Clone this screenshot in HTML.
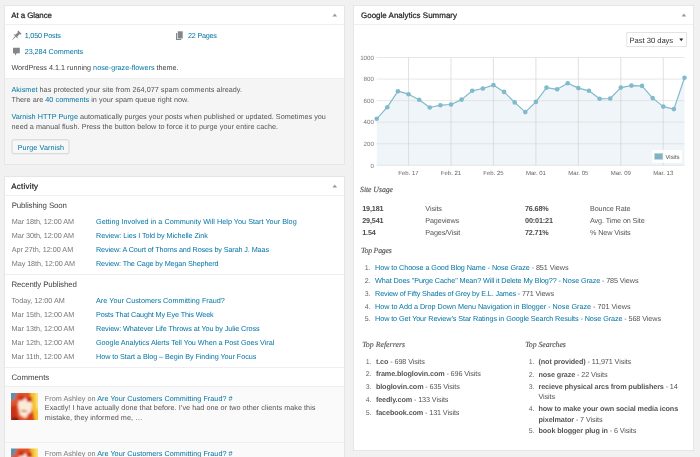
<!DOCTYPE html>
<html><head><meta charset="utf-8"><title>Dashboard</title>
<style>
html,body{margin:0;padding:0;background:#f1f1f1;width:700px;height:457px;overflow:hidden}
svg{display:block;font-family:'Liberation Sans', Arial, sans-serif;text-rendering:geometricPrecision}
</style></head>
<body>
<svg width="700" height="457" viewBox="0 0 700 457">
<rect x="4.5" y="5.5" width="340" height="159" fill="#fff" stroke="#e6e6e6" stroke-width="1"/>
<rect x="5" y="78" width="339" height="86" fill="#f5f5f5"/>
<line x1="5" y1="78.5" x2="344" y2="78.5" stroke="#eee" stroke-width="1"/>
<line x1="5" y1="24.5" x2="344" y2="24.5" stroke="#f0f0f0" stroke-width="1"/>
<rect x="4.5" y="176.5" width="340" height="300" fill="#fff" stroke="#e6e6e6" stroke-width="1"/>
<line x1="5" y1="195.5" x2="344" y2="195.5" stroke="#f0f0f0" stroke-width="1"/>
<rect x="353.5" y="5.5" width="340" height="445" fill="#fff" stroke="#e6e6e6" stroke-width="1"/>
<line x1="354" y1="24.5" x2="693" y2="24.5" stroke="#f0f0f0" stroke-width="1"/>
<path d="M332.45,16.6 L337.05,16.6 L334.75,13.5 Z" fill="#999"/>
<path d="M332.45,187.6 L337.05,187.6 L334.75,184.4 Z" fill="#999"/>
<path d="M681.6,16.6 L686.1999999999999,16.6 L683.9,13.5 Z" fill="#999"/>
<text x="11.2" y="17.9" font-size="7.969" stroke="#222" stroke-width="0.22" textLength="40.80" lengthAdjust="spacing"><tspan fill="#222">At a Glance</tspan></text>
<g fill="#82878c" transform="translate(19.9,32.1) rotate(45)"><path d="M-2.3,0 L2.3,0 L2.3,1.3 L1.3,1.3 L1.3,4.6 L2.9,6.2 L-2.9,6.2 L-1.3,4.6 L-1.3,1.3 L-2.3,1.3 Z"/><path d="M-0.55,6.2 L0.55,6.2 L0.15,11 L-0.15,11 Z"/></g>
<text x="24.7" y="37.9" font-size="7.245" textLength="36.20" lengthAdjust="spacing"><tspan fill="#0074a2">1,050 Posts</tspan></text>
<g fill="#82878c"><rect x="177.8" y="31.3" width="4.9" height="7.2"/><path d="M176,32.9 L177.2,32.9 L177.2,38.9 L181.3,38.9 L181.3,39.9 L176,39.9 Z"/></g>
<text x="188.1" y="37.9" font-size="7.245" textLength="28.80" lengthAdjust="spacing"><tspan fill="#0074a2">22 Pages</tspan></text>
<path d="M13,47.8 L19.8,47.8 L19.8,53.3 L16.7,53.3 L15.4,55.6 L14.6,53.3 L13,53.3 Z" fill="#82878c"/>
<text x="24.7" y="54.3" font-size="7.245" textLength="58.50" lengthAdjust="spacing"><tspan fill="#0074a2">23,284 Comments</tspan></text>
<text x="11.4" y="70" font-size="7.245" textLength="167.20" lengthAdjust="spacing"><tspan fill="#444">WordPress 4.1.1 running </tspan><tspan fill="#0074a2">nose-graze-flowers</tspan><tspan fill="#444"> theme.</tspan></text>
<text x="11.5" y="92" font-size="7.245" textLength="230.50" lengthAdjust="spacing"><tspan fill="#0074a2">Akismet</tspan><tspan fill="#555"> has protected your site from 264,077 spam comments already.</tspan></text>
<text x="11.5" y="101.9" font-size="7.245" textLength="177.40" lengthAdjust="spacing"><tspan fill="#555">There are </tspan><tspan fill="#0074a2">40 comments</tspan><tspan fill="#555"> in your spam queue right now.</tspan></text>
<text x="11.5" y="119.4" font-size="7.245" textLength="314.40" lengthAdjust="spacing"><tspan fill="#0074a2">Varnish HTTP Purge</tspan><tspan fill="#555"> automatically purges your posts when published or updated. Sometimes you</tspan></text>
<text x="11.5" y="129.2" font-size="7.245" textLength="266.60" lengthAdjust="spacing"><tspan fill="#555">need a manual flush. Press the button below to force it to purge your entire cache.</tspan></text>
<rect x="12" y="139.8" width="57" height="13.8" fill="#f7f7f7" stroke="#ccc" stroke-width="0.8" rx="1.5"/>
<line x1="12.5" y1="153.9" x2="68.5" y2="153.9" stroke="#ddd" stroke-width="0.6"/>
<text x="17.7" y="149.7" font-size="7.245" textLength="46.30" lengthAdjust="spacing"><tspan fill="#0074a2">Purge Varnish</tspan></text>
<text x="11.3" y="188.6" font-size="7.969" stroke="#222" stroke-width="0.22" textLength="26.80" lengthAdjust="spacing"><tspan fill="#222">Activity</tspan></text>
<text x="11.7" y="207.7" font-size="7.866" textLength="55.20" lengthAdjust="spacing"><tspan fill="#444">Publishing Soon</tspan></text>
<text x="11.7" y="223.8" font-size="7.245" textLength="62.30" lengthAdjust="spacing"><tspan fill="#777">Mar 18th, 12:00 AM</tspan></text>
<text x="96" y="223.8" font-size="7.245" textLength="200.70" lengthAdjust="spacing"><tspan fill="#0074a2">Getting Involved in a Community Will Help You Start Your Blog</tspan></text>
<text x="11.7" y="237.70000000000002" font-size="7.245" textLength="62.30" lengthAdjust="spacing"><tspan fill="#777">Mar 30th, 12:00 AM</tspan></text>
<text x="96" y="237.70000000000002" font-size="7.245" textLength="111.90" lengthAdjust="spacing"><tspan fill="#0074a2">Review: Lies I Told by Michelle Zink</tspan></text>
<text x="11.7" y="251.60000000000002" font-size="7.245" textLength="61.50" lengthAdjust="spacing"><tspan fill="#777">Apr 27th, 12:00 AM</tspan></text>
<text x="96" y="251.60000000000002" font-size="7.245" textLength="173.00" lengthAdjust="spacing"><tspan fill="#0074a2">Review: A Court of Thorns and Roses by Sarah J. Maas</tspan></text>
<text x="11.7" y="265.5" font-size="7.245" textLength="63.30" lengthAdjust="spacing"><tspan fill="#777">May 18th, 12:00 AM</tspan></text>
<text x="96" y="265.5" font-size="7.245" textLength="122.60" lengthAdjust="spacing"><tspan fill="#0074a2">Review: The Cage by Megan Shepherd</tspan></text>
<line x1="5" y1="274.5" x2="344" y2="274.5" stroke="#eee" stroke-width="1"/>
<text x="11.5" y="286.6" font-size="7.866" textLength="65.30" lengthAdjust="spacing"><tspan fill="#444">Recently Published</tspan></text>
<text x="11.5" y="303.0" font-size="7.245" textLength="53.30" lengthAdjust="spacing"><tspan fill="#777">Today, 12:00 AM</tspan></text>
<text x="96" y="303.0" font-size="7.245" textLength="128.90" lengthAdjust="spacing"><tspan fill="#0074a2">Are Your Customers Committing Fraud?</tspan></text>
<text x="11.5" y="316.9" font-size="7.245" textLength="62.90" lengthAdjust="spacing"><tspan fill="#777">Mar 15th, 12:00 AM</tspan></text>
<text x="96" y="316.9" font-size="7.245" textLength="117.70" lengthAdjust="spacing"><tspan fill="#0074a2">Posts That Caught My Eye This Week</tspan></text>
<text x="11.5" y="330.8" font-size="7.245" textLength="62.90" lengthAdjust="spacing"><tspan fill="#777">Mar 13th, 12:00 AM</tspan></text>
<text x="96" y="330.8" font-size="7.245" textLength="163.70" lengthAdjust="spacing"><tspan fill="#0074a2">Review: Whatever Life Throws at You by Julie Cross</tspan></text>
<text x="11.5" y="344.7" font-size="7.245" textLength="62.90" lengthAdjust="spacing"><tspan fill="#777">Mar 12th, 12:00 AM</tspan></text>
<text x="96" y="344.7" font-size="7.245" textLength="178.30" lengthAdjust="spacing"><tspan fill="#0074a2">Google Analytics Alerts Tell You When a Post Goes Viral</tspan></text>
<text x="11.5" y="358.6" font-size="7.245" textLength="62.90" lengthAdjust="spacing"><tspan fill="#777">Mar 11th, 12:00 AM</tspan></text>
<text x="96" y="358.6" font-size="7.245" textLength="160.30" lengthAdjust="spacing"><tspan fill="#0074a2">How to Start a Blog – Begin By Finding Your Focus</tspan></text>
<line x1="5" y1="367.5" x2="344" y2="367.5" stroke="#eee" stroke-width="1"/>
<text x="11.4" y="379.6" font-size="7.866" textLength="37.90" lengthAdjust="spacing"><tspan fill="#444">Comments</tspan></text>
<line x1="5" y1="386.5" x2="344" y2="386.5" stroke="#eee" stroke-width="1"/>
<rect x="5" y="387" width="339" height="70" fill="#fafafa"/>
<line x1="5" y1="442.5" x2="344" y2="442.5" stroke="#eee" stroke-width="1"/>
<defs>
<filter id="avb" x="-10%" y="-10%" width="120%" height="120%"><feGaussianBlur stdDeviation="0.9"/></filter>
<clipPath id="avc"><rect x="0" y="0" width="27" height="27"/></clipPath>
<g id="avg"><g clip-path="url(#avc)"><g filter="url(#avb)">
<rect x="-2" y="-2" width="31" height="31" fill="#e2542a"/>
<path d="M-2,-2 L7,-2 L3,7 L-2,8 Z" fill="#5d8fae"/>
<path d="M19,-2 L29,-2 L29,29 L22,29 Z" fill="#f6c02e"/>
<path d="M24,-2 L29,-2 L29,20 L25,14 Z" fill="#fbe27a"/>
<path d="M8,6 L19,5 L21,12 L19.5,22 L14,25 L9,22 L7,12 Z" fill="#fbecd8"/>
<path d="M7,3 L13,2 L13,7 L8,8 Z" fill="#c9301f"/>
<path d="M15,4 L21,4 L21,9 L16,9 Z" fill="#c9301f"/>
<path d="M10,17 L16,17.5 L15.5,19 L10.5,18.5 Z" fill="#c05a48"/>
<path d="M-2,14 L5,12 L7,29 L-2,29 Z" fill="#c8321a"/>
<path d="M17,21 L22,18 L24,29 L14,29 Z" fill="#d8401e"/>
<path d="M2,24 L8,25 L8,29 L0,29 Z" fill="#7a1d12"/>
</g></g></g>
</defs>
<use href="#avg" x="11" y="393"/>
<text x="44.8" y="400.5" font-size="7.245" textLength="187.80" lengthAdjust="spacing"><tspan fill="#777">From Ashley on </tspan><tspan fill="#0074a2">Are Your Customers Committing Fraud? #</tspan></text>
<text x="44.8" y="410.3" font-size="7.245" textLength="270.60" lengthAdjust="spacing"><tspan fill="#555">Exactly! I have actually done that before. I’ve had one or two other clients make this</tspan></text>
<text x="44.8" y="420.2" font-size="7.245" textLength="97.60" lengthAdjust="spacing"><tspan fill="#555">mistake, they informed me, …</tspan></text>
<use href="#avg" x="11" y="448.5"/>
<text x="44.8" y="456" font-size="7.245" textLength="187.80" lengthAdjust="spacing"><tspan fill="#777">From Ashley on </tspan><tspan fill="#0074a2">Are Your Customers Committing Fraud? #</tspan></text>
<text x="361" y="17.9" font-size="7.969" stroke="#222" stroke-width="0.22" textLength="96.00" lengthAdjust="spacing"><tspan fill="#222">Google Analytics Summary</tspan></text>
<rect x="626.8" y="32.6" width="59.7" height="13.8" fill="#fff" stroke="#ddd" stroke-width="0.8"/>
<text x="629.5" y="42.7" font-size="7.659" textLength="43.70" lengthAdjust="spacing"><tspan fill="#333">Past 30 days</tspan></text>
<path d="M679.3,38.5 L683.2,38.5 L681.25,41.3 Z" fill="#222"/>
<polygon points="376.7,165.3 376.70,118.80 387.31,107.20 397.93,91.20 408.54,94.20 419.16,99.80 429.77,107.50 440.38,105.20 451.00,104.50 461.61,99.60 472.22,90.80 482.84,88.50 493.45,85.10 504.07,91.90 514.68,102.40 525.29,112.10 535.91,101.90 546.52,87.60 557.13,89.30 567.75,83.20 578.36,88.10 588.98,90.80 599.59,98.80 610.20,98.50 620.82,87.60 631.43,85.60 642.04,85.90 652.66,98.10 663.27,106.60 673.89,109.10 684.50,77.70 684.5,165.3" fill="#eff5f8"/>
<line x1="376.7" y1="57.5" x2="684.5" y2="57.5" stroke="#dcdcdc" stroke-width="0.7"/>
<line x1="376.7" y1="79.06" x2="684.5" y2="79.06" stroke="#dcdcdc" stroke-width="0.7"/>
<line x1="376.7" y1="100.62" x2="684.5" y2="100.62" stroke="#dcdcdc" stroke-width="0.7"/>
<line x1="376.7" y1="122.18" x2="684.5" y2="122.18" stroke="#dcdcdc" stroke-width="0.7"/>
<line x1="376.7" y1="143.74" x2="684.5" y2="143.74" stroke="#dcdcdc" stroke-width="0.7"/>
<line x1="376.7" y1="165.3" x2="684.5" y2="165.3" stroke="#dcdcdc" stroke-width="0.7"/>
<line x1="408.54" y1="57.5" x2="408.54" y2="165.3" stroke="#d4d4d4" stroke-width="0.7"/>
<text x="408.54" y="175" font-size="6" text-anchor="middle"><tspan fill="#666">Feb. 17</tspan></text>
<line x1="451.0" y1="57.5" x2="451.0" y2="165.3" stroke="#d4d4d4" stroke-width="0.7"/>
<text x="451.0" y="175" font-size="6" text-anchor="middle"><tspan fill="#666">Feb. 21</tspan></text>
<line x1="493.45" y1="57.5" x2="493.45" y2="165.3" stroke="#d4d4d4" stroke-width="0.7"/>
<text x="493.45" y="175" font-size="6" text-anchor="middle"><tspan fill="#666">Feb. 25</tspan></text>
<line x1="535.91" y1="57.5" x2="535.91" y2="165.3" stroke="#d4d4d4" stroke-width="0.7"/>
<text x="535.91" y="175" font-size="6" text-anchor="middle"><tspan fill="#666">Mar. 01</tspan></text>
<line x1="578.36" y1="57.5" x2="578.36" y2="165.3" stroke="#d4d4d4" stroke-width="0.7"/>
<text x="578.36" y="175" font-size="6" text-anchor="middle"><tspan fill="#666">Mar. 05</tspan></text>
<line x1="620.82" y1="57.5" x2="620.82" y2="165.3" stroke="#d4d4d4" stroke-width="0.7"/>
<text x="620.82" y="175" font-size="6" text-anchor="middle"><tspan fill="#666">Mar. 09</tspan></text>
<line x1="663.27" y1="57.5" x2="663.27" y2="165.3" stroke="#d4d4d4" stroke-width="0.7"/>
<text x="663.27" y="175" font-size="6" text-anchor="middle"><tspan fill="#666">Mar. 13</tspan></text>
<text x="373.9" y="59.7" font-size="6.2" text-anchor="end"><tspan fill="#777">1000</tspan></text>
<text x="373.9" y="81.26" font-size="6.2" text-anchor="end"><tspan fill="#777">800</tspan></text>
<text x="373.9" y="102.82" font-size="6.2" text-anchor="end"><tspan fill="#777">600</tspan></text>
<text x="373.9" y="124.38" font-size="6.2" text-anchor="end"><tspan fill="#777">400</tspan></text>
<text x="373.9" y="145.94" font-size="6.2" text-anchor="end"><tspan fill="#777">200</tspan></text>
<text x="373.9" y="167.5" font-size="6.2" text-anchor="end"><tspan fill="#777">0</tspan></text>
<polyline points="376.70,118.80 387.31,107.20 397.93,91.20 408.54,94.20 419.16,99.80 429.77,107.50 440.38,105.20 451.00,104.50 461.61,99.60 472.22,90.80 482.84,88.50 493.45,85.10 504.07,91.90 514.68,102.40 525.29,112.10 535.91,101.90 546.52,87.60 557.13,89.30 567.75,83.20 578.36,88.10 588.98,90.80 599.59,98.80 610.20,98.50 620.82,87.60 631.43,85.60 642.04,85.90 652.66,98.10 663.27,106.60 673.89,109.10 684.50,77.70" fill="none" stroke="#80bacb" stroke-width="1.2" stroke-linejoin="round"/>
<circle cx="376.70" cy="118.80" r="2.3" fill="#80bacb"/>
<circle cx="387.31" cy="107.20" r="2.3" fill="#80bacb"/>
<circle cx="397.93" cy="91.20" r="2.3" fill="#80bacb"/>
<circle cx="408.54" cy="94.20" r="2.3" fill="#80bacb"/>
<circle cx="419.16" cy="99.80" r="2.3" fill="#80bacb"/>
<circle cx="429.77" cy="107.50" r="2.3" fill="#80bacb"/>
<circle cx="440.38" cy="105.20" r="2.3" fill="#80bacb"/>
<circle cx="451.00" cy="104.50" r="2.3" fill="#80bacb"/>
<circle cx="461.61" cy="99.60" r="2.3" fill="#80bacb"/>
<circle cx="472.22" cy="90.80" r="2.3" fill="#80bacb"/>
<circle cx="482.84" cy="88.50" r="2.3" fill="#80bacb"/>
<circle cx="493.45" cy="85.10" r="2.3" fill="#80bacb"/>
<circle cx="504.07" cy="91.90" r="2.3" fill="#80bacb"/>
<circle cx="514.68" cy="102.40" r="2.3" fill="#80bacb"/>
<circle cx="525.29" cy="112.10" r="2.3" fill="#80bacb"/>
<circle cx="535.91" cy="101.90" r="2.3" fill="#80bacb"/>
<circle cx="546.52" cy="87.60" r="2.3" fill="#80bacb"/>
<circle cx="557.13" cy="89.30" r="2.3" fill="#80bacb"/>
<circle cx="567.75" cy="83.20" r="2.3" fill="#80bacb"/>
<circle cx="578.36" cy="88.10" r="2.3" fill="#80bacb"/>
<circle cx="588.98" cy="90.80" r="2.3" fill="#80bacb"/>
<circle cx="599.59" cy="98.80" r="2.3" fill="#80bacb"/>
<circle cx="610.20" cy="98.50" r="2.3" fill="#80bacb"/>
<circle cx="620.82" cy="87.60" r="2.3" fill="#80bacb"/>
<circle cx="631.43" cy="85.60" r="2.3" fill="#80bacb"/>
<circle cx="642.04" cy="85.90" r="2.3" fill="#80bacb"/>
<circle cx="652.66" cy="98.10" r="2.3" fill="#80bacb"/>
<circle cx="663.27" cy="106.60" r="2.3" fill="#80bacb"/>
<circle cx="673.89" cy="109.10" r="2.3" fill="#80bacb"/>
<circle cx="684.50" cy="77.70" r="2.3" fill="#80bacb"/>
<rect x="652.2" y="150" width="29.8" height="12.8" fill="#fff" opacity="0.85"/>
<rect x="654.6" y="153.4" width="8.2" height="6" fill="#7ab4c6" stroke="#ccc" stroke-width="0.6"/>
<text x="665.5" y="159.2" font-size="6.003" textLength="14.00" lengthAdjust="spacing"><tspan fill="#545454">Visits</tspan></text>
<text x="360.1" y="192.3" font-size="7.8" font-family="'Liberation Serif', Georgia, serif" font-style="italic" stroke="#555" stroke-width="0.15" textLength="32.90" lengthAdjust="spacing"><tspan fill="#555">Site Usage</tspan></text>
<text x="362.2" y="210.9" font-size="7.245" textLength="21.42" lengthAdjust="spacing"><tspan fill="#4a4a4a" font-weight="700">19,181</tspan></text>
<text x="425.3" y="210.9" font-size="7.245" textLength="16.61" lengthAdjust="spacing"><tspan fill="#555">Visits</tspan></text>
<text x="525" y="210.9" font-size="7.245" textLength="23.75" lengthAdjust="spacing"><tspan fill="#4a4a4a" font-weight="700">76.68%</tspan></text>
<text x="590" y="210.9" font-size="7.245" textLength="40.48" lengthAdjust="spacing"><tspan fill="#555">Bounce Rate</tspan></text>
<text x="362.2" y="222.9" font-size="7.245" textLength="21.42" lengthAdjust="spacing"><tspan fill="#4a4a4a" font-weight="700">29,541</tspan></text>
<text x="425.3" y="222.9" font-size="7.245" textLength="33.86" lengthAdjust="spacing"><tspan fill="#555">Pageviews</tspan></text>
<text x="525" y="222.9" font-size="7.245" textLength="28.03" lengthAdjust="spacing"><tspan fill="#4a4a4a" font-weight="700">00:01:21</tspan></text>
<text x="590" y="222.9" font-size="7.245" textLength="54.73" lengthAdjust="spacing"><tspan fill="#555">Avg. Time on Site</tspan></text>
<text x="362.2" y="234.5" font-size="7.245" textLength="13.62" lengthAdjust="spacing"><tspan fill="#4a4a4a" font-weight="700">1.54</tspan></text>
<text x="425.3" y="234.5" font-size="7.245" textLength="34.89" lengthAdjust="spacing"><tspan fill="#555">Pages/Visit</tspan></text>
<text x="525" y="234.5" font-size="7.245" textLength="23.75" lengthAdjust="spacing"><tspan fill="#4a4a4a" font-weight="700">72.71%</tspan></text>
<text x="590" y="234.5" font-size="7.245" textLength="40.72" lengthAdjust="spacing"><tspan fill="#555">% New Visits</tspan></text>
<text x="361" y="253.1" font-size="7.8" font-family="'Liberation Serif', Georgia, serif" font-style="italic" stroke="#555" stroke-width="0.15" textLength="30.90" lengthAdjust="spacing"><tspan fill="#555">Top Pages</tspan></text>
<text x="370.5" y="270.0" font-size="7" text-anchor="end"><tspan fill="#666">1.</tspan></text>
<text x="375.1" y="270.0" font-size="7.245" textLength="193.40" lengthAdjust="spacing"><tspan fill="#0074a2">How to Choose a Good Blog Name - Nose Graze</tspan><tspan fill="#555"> - 851 Views</tspan></text>
<text x="370.5" y="282.85" font-size="7" text-anchor="end"><tspan fill="#666">2.</tspan></text>
<text x="375.1" y="282.85" font-size="7.245" textLength="263.40" lengthAdjust="spacing"><tspan fill="#0074a2">What Does "Purge Cache" Mean? Will it Delete My Blog?? - Nose Graze</tspan><tspan fill="#555"> - 785 Views</tspan></text>
<text x="370.5" y="295.7" font-size="7" text-anchor="end"><tspan fill="#666">3.</tspan></text>
<text x="375.1" y="295.7" font-size="7.245" textLength="178.90" lengthAdjust="spacing"><tspan fill="#0074a2">Review of Fifty Shades of Grey by E.L. James</tspan><tspan fill="#555"> - 771 Views</tspan></text>
<text x="370.5" y="308.55" font-size="7" text-anchor="end"><tspan fill="#666">4.</tspan></text>
<text x="375.1" y="308.55" font-size="7.245" textLength="255.40" lengthAdjust="spacing"><tspan fill="#0074a2">How to Add a Drop Down Menu Navigation in Blogger - Nose Graze</tspan><tspan fill="#555"> - 701 Views</tspan></text>
<text x="370.5" y="321.4" font-size="7" text-anchor="end"><tspan fill="#666">5.</tspan></text>
<text x="375.1" y="321.4" font-size="7.245" textLength="285.90" lengthAdjust="spacing"><tspan fill="#0074a2">How to Get Your Review’s Star Ratings in Google Search Results - Nose Graze</tspan><tspan fill="#555"> - 568 Views</tspan></text>
<text x="362.2" y="346.6" font-size="7.8" font-family="'Liberation Serif', Georgia, serif" font-style="italic" stroke="#555" stroke-width="0.15" textLength="42.80" lengthAdjust="spacing"><tspan fill="#555">Top Referrers</tspan></text>
<text x="525.3" y="346.6" font-size="7.8" font-family="'Liberation Serif', Georgia, serif" font-style="italic" stroke="#555" stroke-width="0.15" textLength="40.60" lengthAdjust="spacing"><tspan fill="#555">Top Searches</tspan></text>
<text x="371.5" y="363.6" font-size="7" text-anchor="end"><tspan fill="#666">1.</tspan></text>
<text x="375.9" y="363.6" font-size="7.245" textLength="48.91" lengthAdjust="spacing"><tspan fill="#555" font-weight="700">t.co</tspan><tspan fill="#555"> - 698 Visits</tspan></text>
<text x="371.5" y="376.40000000000003" font-size="7" text-anchor="end"><tspan fill="#666">2.</tspan></text>
<text x="375.9" y="376.40000000000003" font-size="7.245" textLength="104.92" lengthAdjust="spacing"><tspan fill="#555" font-weight="700">frame.bloglovin.com</tspan><tspan fill="#555"> - 696 Visits</tspan></text>
<text x="371.5" y="389.20000000000005" font-size="7" text-anchor="end"><tspan fill="#666">3.</tspan></text>
<text x="375.9" y="389.20000000000005" font-size="7.245" textLength="83.91" lengthAdjust="spacing"><tspan fill="#555" font-weight="700">bloglovin.com</tspan><tspan fill="#555"> - 635 Visits</tspan></text>
<text x="371.5" y="402.0" font-size="7" text-anchor="end"><tspan fill="#666">4.</tspan></text>
<text x="375.9" y="402.0" font-size="7.245" textLength="72.52" lengthAdjust="spacing"><tspan fill="#555" font-weight="700">feedly.com</tspan><tspan fill="#555"> - 133 Visits</tspan></text>
<text x="371.5" y="414.8" font-size="7" text-anchor="end"><tspan fill="#666">5.</tspan></text>
<text x="375.9" y="414.8" font-size="7.245" textLength="83.53" lengthAdjust="spacing"><tspan fill="#555" font-weight="700">facebook.com</tspan><tspan fill="#555"> - 131 Visits</tspan></text>
<text x="534.5" y="363.6" font-size="7" text-anchor="end"><tspan fill="#666">1.</tspan></text>
<text x="538.5" y="363.6" font-size="7.245" textLength="92.72" lengthAdjust="spacing"><tspan fill="#555" font-weight="700">(not provided)</tspan><tspan fill="#555"> - 11,971 Visits</tspan></text>
<text x="534.5" y="376.5" font-size="7" text-anchor="end"><tspan fill="#666">2.</tspan></text>
<text x="538.5" y="376.5" font-size="7.245" textLength="69.14" lengthAdjust="spacing"><tspan fill="#555" font-weight="700">nose graze</tspan><tspan fill="#555"> - 22 Visits</tspan></text>
<text x="534.5" y="388.7" font-size="7" text-anchor="end"><tspan fill="#666">3.</tspan></text>
<text x="538.5" y="388.7" font-size="7.245" textLength="139.31" lengthAdjust="spacing"><tspan fill="#555" font-weight="700">recieve physical arcs from publishers</tspan><tspan fill="#555"> - 14</tspan></text>
<text x="538.5" y="398.5" font-size="7.245" textLength="16.61" lengthAdjust="spacing"><tspan fill="#555">Visits</tspan></text>
<text x="534.5" y="411.2" font-size="7" text-anchor="end"><tspan fill="#666">4.</tspan></text>
<text x="538.5" y="411.2" font-size="7.245" textLength="139.66" lengthAdjust="spacing"><tspan fill="#555" font-weight="700">how to make your own social media icons</tspan></text>
<text x="538.5" y="421.5" font-size="7.245" textLength="64.06" lengthAdjust="spacing"><tspan fill="#555" font-weight="700">pixelmator</tspan><tspan fill="#555"> - 7 Visits</tspan></text>
<text x="534.5" y="433.4" font-size="7" text-anchor="end"><tspan fill="#666">5.</tspan></text>
<text x="538.5" y="433.4" font-size="7.245" textLength="97.88" lengthAdjust="spacing"><tspan fill="#555" font-weight="700">book blogger plug in</tspan><tspan fill="#555"> - 6 Visits</tspan></text>
</svg>
</body></html>
